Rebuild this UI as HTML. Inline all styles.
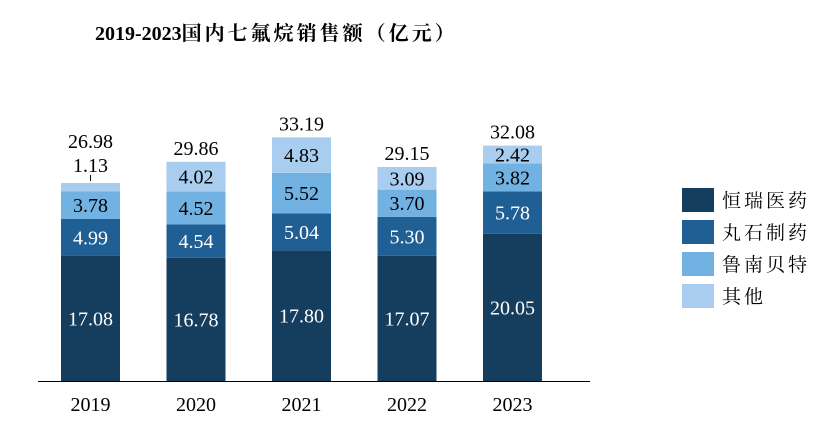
<!DOCTYPE html>
<html><head><meta charset="utf-8"><style>
body{margin:0;background:#fff;width:832px;height:424px;overflow:hidden}
svg text{font-family:"Liberation Serif","Noto Serif CJK SC",serif}
</style></head><body>
<svg width="832" height="424">
<text x="95" y="40" font-size="20" font-weight="bold">2019-2023<tspan letter-spacing="3">国内七氟烷销售额（亿元）</tspan></text>
<g id="bars"></g>
<line x1="38" y1="381.5" x2="590" y2="381.5" stroke="#000" stroke-width="1"/>
<g id="legend"></g>
</svg>
<script>
const years=["2019","2020","2021","2022","2023"];
const hengrui=[17.08,16.78,17.80,17.07,20.05];
const wanshi=[4.99,4.54,5.04,5.30,5.78];
const lunan=[3.78,4.52,5.52,3.70,3.82];
const other=[1.13,4.02,4.83,3.09,2.42];
const totals=["26.98","29.86","33.19","29.15","32.08"];
const seriesNames=["恒瑞医药","丸石制药","鲁南贝特","其他"];
const series=[hengrui,wanshi,lunan,other];
const colors=["#143d5e","#1f5f94","#72b2e2","#a8cdee"];
const textColors=["#fff","#fff","#000","#000"];
const NS="http://www.w3.org/2000/svg";
const base=381,scale=7.34,x0=61,step=105.5,bw=59;
const y=v=>base-v*scale;
const xb=i=>x0+i*step;
const g=document.getElementById('bars');
function mk(t,a){const e=document.createElementNS(NS,t);for(const k in a)e.setAttribute(k,a[k]);return e;}
years.forEach((yr,i)=>{
  let cum=0;
  series.forEach((s,j)=>{
    const v=s[i];
    const r=mk('rect',{x:xb(i),y:y(cum+v),width:bw,height:v*scale,fill:colors[j]});
    
    
    g.appendChild(r);
    const small=v*scale<16;
    const ty=small?y(cum+v)-11:y(cum+v/2)+7;
    const t=mk('text',{x:xb(i)+bw/2,y:ty,'font-size':20,'text-anchor':'middle',fill:small?'#000':textColors[j]});
    t.textContent=v.toFixed(2);
    
    
    g.appendChild(t);
    if(small){const l=mk('line',{x1:xb(i)+bw/2,x2:xb(i)+bw/2,y1:y(cum+v)-8,y2:y(cum+v)-2,stroke:'#000'});
      
      
      g.appendChild(l);}
    cum+=v;
  });
  const smallTop=other[i]*scale<16;
  const tt=mk('text',{x:xb(i)+bw/2,y:y(cum)-(smallTop?35:7),'font-size':20,'text-anchor':'middle',fill:'#000'});
  tt.textContent=totals[i];
  
  
  g.appendChild(tt);
  const xl=mk('text',{x:xb(i)+bw/2,y:411,'font-size':20,'text-anchor':'middle',fill:'#000'});
  xl.textContent=yr;
  
  
  g.appendChild(xl);
});
const lg=document.getElementById('legend');
seriesNames.forEach((n,j)=>{
  const r=mk('rect',{x:682,y:188+j*32,width:32,height:24,fill:colors[j]});
  
  
  lg.appendChild(r);
  const t=mk('text',{x:722,y:207+j*32,'font-size':19,'letter-spacing':'3',fill:'#000'});
  t.textContent=n;
  
  
  lg.appendChild(t);
});
</script>
</body></html>
